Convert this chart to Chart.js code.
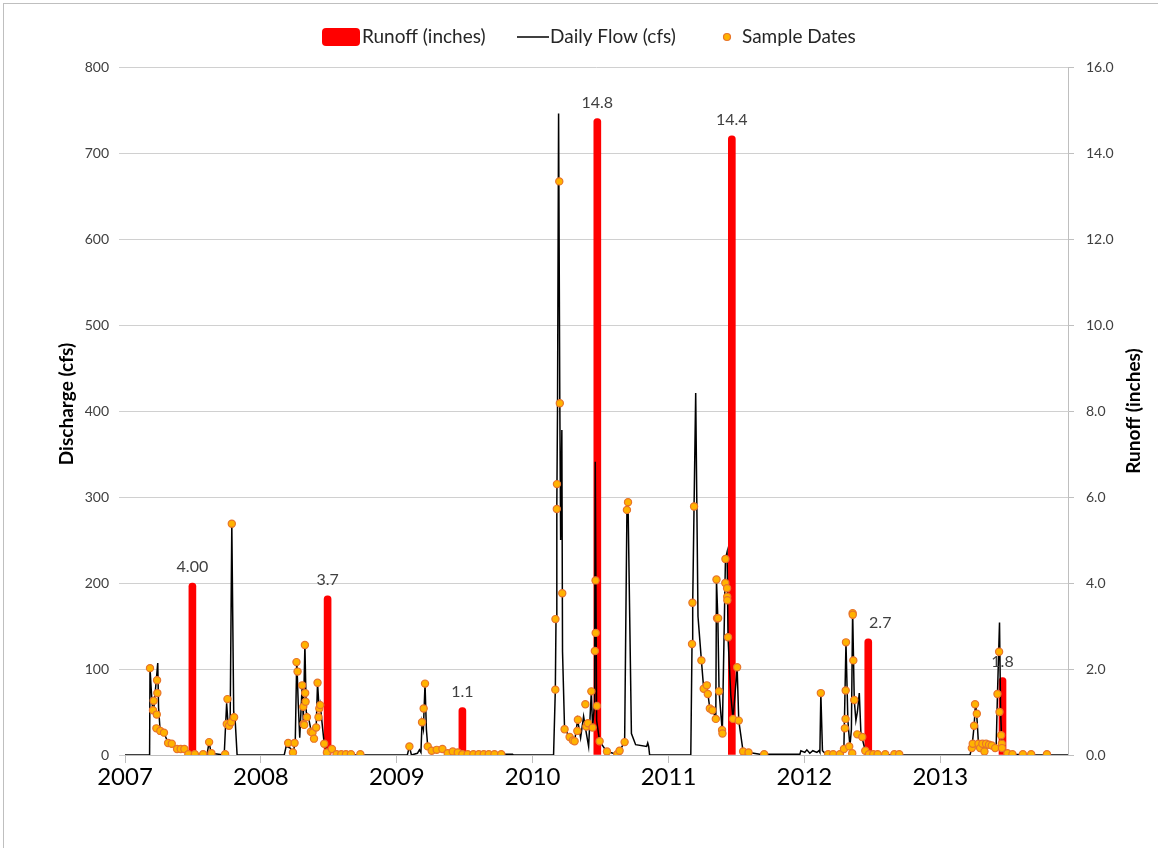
<!DOCTYPE html>
<html>
<head>
<meta charset="utf-8">
<script src="https://cdn.jsdelivr.net/npm/chart.js@4.4.1/dist/chart.umd.min.js"></script>
<style>
  html, body { margin: 0; padding: 0; background: #fff; }
  #wrap { width: 1158px; height: 848px; position: relative; }
</style>
</head>
<body>
<div id="wrap"><canvas id="c"></canvas></div>
<script>
// ---- Data (x in decimal years) ----
const runoffX = [2007.496, 2008.491, 2009.483, 2010.476, 2011.466, 2012.470, 2013.458];
const runoffY = [4.00, 3.7, 1.1, 14.8, 14.4, 2.7, 1.8];
const runoffLabels = ['4.00', '3.7', '1.1', '14.8', '14.4', '2.7', '1.8'];

const flowX = [
 2007.000,2007.181,2007.184,2007.199,2007.210,2007.221,2007.241,2007.247,2007.258,2007.287,
 2007.317,2007.346,2007.383,2007.435,2007.464,2007.604,2007.619,2007.634,2007.730,2007.748,
 2007.759,2007.774,2007.786,2007.800,2007.811,2007.825,
 2008.172,2008.186,2008.216,2008.238,2008.253,2008.264,2008.275,2008.286,2008.304,2008.312,
 2008.324,2008.334,2008.349,2008.371,2008.391,2008.407,2008.417,2008.430,2008.437,2008.466,
 2008.489,2008.525,2008.555,2008.614,
 2009.078,2009.093,2009.108,2009.152,2009.167,2009.178,2009.186,2009.196,2009.208,2009.218,
 2009.228,2009.255,2009.336,2009.373,2009.410,2009.461,2009.483,2009.852,2009.859,
 2010.154,2010.167,2010.172,2010.178,2010.183,2010.191,2010.200,2010.206,2010.215,2010.220,
 2010.235,2010.257,2010.287,2010.309,2010.331,2010.353,2010.375,2010.390,2010.412,2010.432,
 2010.441,2010.456,2010.461,2010.471,2010.493,2010.545,2010.618,2010.640,2010.677,2010.694,
 2010.702,2010.727,2010.758,2010.839,2010.847,2010.854,2010.861,
 2011.164,2011.173,2011.178,2011.188,2011.200,2011.217,2011.242,2011.259,2011.282,2011.304,
 2011.326,2011.348,2011.353,2011.363,2011.372,2011.396,2011.419,2011.431,2011.438,2011.458,
 2011.475,2011.505,2011.517,2011.549,2011.672,2011.967,2011.974,
 2012.003,2012.018,2012.040,2012.062,2012.092,2012.107,2012.114,2012.121,2012.133,2012.158,
 2012.284,2012.291,2012.306,2012.320,2012.335,2012.346,2012.355,2012.367,2012.379,2012.390,
 2012.404,2012.416,2012.448,2012.475,
 2013.219,2013.234,2013.249,2013.260,2013.271,2013.281,2013.308,2013.330,2013.359,2013.389,
 2013.411,2013.421,2013.436,2013.444,2013.453,2013.477,2013.529,2013.662,2013.940
];
const flowY = [
 0,0,101,60,50,70,107,55,30,26,
 14,13,7,6,1,1,15,2,0,60,
 35,40,269,50,40,0,
 0,10,8,3,15,112,60,20,81,40,
 128,50,45,27,19,32,84,50,58,13,
 3,5,1,0,
 0,10,0,2,6,3,38,30,83,30,
 10,5,7,2,4,2,1,1,0,
 0,76,158,290,400,746,409,250,378,120,
 30,25,17,16,41,20,45,30,10,74,
 32,60,341,40,16,4,1,5,15,285,
 294,25,12,10,14,10,0,
 0,129,177,289,421,161,110,77,81,54,
 52,42,204,159,74,27,228,236,137,70,
 42,102,40,4,1,1,5,
 3,6,2,5,3,5,3,72,5,1,
 2,10,131,40,10,30,168,64,40,50,
 72,25,5,0,
 0,10,34,62,40,13,13,5,12,9,
 8,71,154,50,13,3,1,0,0
];

const sampleX = [
 2007.184,2007.206,2007.211,2007.236,2007.238,2007.234,2007.231,2007.260,2007.287,2007.317,
 2007.344,2007.383,2007.410,2007.437,2007.466,2007.514,2007.575,2007.619,2007.636,2007.737,
 2007.754,2007.749,2007.766,2007.781,2007.786,2007.803,
 2008.201,2008.236,2008.248,2008.262,2008.270,2008.304,2008.312,2008.324,2008.326,2008.329,
 2008.314,2008.319,2008.339,2008.368,2008.380,2008.391,2008.407,2008.417,2008.424,2008.430,
 2008.437,2008.466,2008.486,2008.523,2008.557,2008.592,2008.626,2008.663,2008.732,
 2009.093,2009.186,2009.198,2009.208,2009.228,2009.257,2009.294,2009.336,2009.375,2009.412,
 2009.449,2009.483,2009.522,2009.564,2009.603,2009.640,2009.677,2009.719,2009.769,
 2010.167,2010.168,2010.178,2010.179,2010.196,2010.200,2010.218,2010.235,2010.272,2010.296,
 2010.309,2010.329,2010.333,2010.388,2010.395,2010.407,2010.432,2010.441,2010.473,2010.463,
 2010.464,2010.458,2010.493,2010.547,2010.623,2010.640,2010.677,2010.694,2010.702,
 2011.173,2011.176,2011.188,2011.242,2011.259,2011.282,2011.289,2011.304,2011.323,2011.348,
 2011.353,2011.357,2011.365,2011.372,2011.394,2011.397,2011.419,2011.418,2011.431,2011.432,
 2011.433,2011.438,2011.475,2011.505,2011.517,2011.549,2011.589,2011.704,
 2012.121,2012.175,2012.212,2012.261,2012.291,2012.298,2012.303,2012.304,2012.306,2012.330,
 2012.352,2012.355,2012.356,2012.360,2012.367,2012.389,2012.426,2012.448,2012.475,2012.507,
 2012.539,2012.595,2012.662,2012.698,
 2013.232,2013.239,2013.249,2013.256,2013.269,2013.281,2013.293,2013.310,2013.325,2013.337,
 2013.359,2013.379,2013.404,2013.421,2013.433,2013.436,2013.448,2013.453,2013.454,2013.494,
 2013.531,2013.608,2013.669,2013.785
];
const sampleY = [
 101,52,63,87,72,47,31,28,26,14,
 13,7,7,7,1,1,1,15,2,1,
 65,36,34,38,269,44,
 14,3,14,108,97,81,56,128,72,62,
 36,35,44,27,26,19,32,84,44,54,
 58,13,3,7,1,1,1,1,1,
 10,38,54,83,10,5,6,7,2,4,
 3,1,1,1,1,1,1,1,1,
 76,158,286,315,667,409,188,30,21,17,
 16,28,41,59,33,37,74,32,57,203,
 142,121,16,4,1,5,15,285,294,
 129,177,289,110,77,81,71,54,52,42,
 204,159,159,74,29,25,228,200,194,184,
 180,137,42,102,40,4,3,1,
 72,1,1,1,7,31,42,75,131,10,
 2,165,163,110,64,24,21,5,1,1,
 1,1,1,1,
 8,13,34,59,48,13,8,13,4,13,
 12,11,8,71,120,50,23,13,8,2,
 1,1,1,1
];

const yearTicks = [2007, 2008, 2009, 2010, 2011, 2012, 2013];

const FONT = 'Lato, "Open Sans", sans-serif';

// ---- Plugins ----
const decorPlugin = {
  id: 'decor',
  beforeDraw(chart) {
    const ctx = chart.ctx;
    ctx.save();
    ctx.fillStyle = '#fff';
    ctx.fillRect(0, 0, chart.width, chart.height);
    ctx.strokeStyle = '#BFBFBF';
    ctx.lineWidth = 1;
    ctx.strokeRect(3.5, 3.5, chart.width + 10, chart.height + 10);
    ctx.restore();
  },
  afterDraw(chart) {
    const ctx = chart.ctx;
    ctx.save();
    // Legend
    ctx.font = '19px ' + FONT;
    ctx.textBaseline = 'middle';
    const ly = 37;
    ctx.fillStyle = '#FF0000';
    ctx.beginPath();
    ctx.roundRect(322, 28, 38, 18, 4);
    ctx.fill();
    ctx.fillStyle = '#262626';
    ctx.fillText('Runoff (inches)', 362, ly);
    ctx.strokeStyle = '#000';
    ctx.lineWidth = 1.5;
    ctx.beginPath();
    ctx.moveTo(517, ly); ctx.lineTo(549, ly);
    ctx.stroke();
    ctx.fillText('Daily Flow (cfs)', 550, ly);
    ctx.beginPath();
    ctx.arc(727, ly, 3.5, 0, Math.PI * 2);
    ctx.fillStyle = '#FFB300';
    ctx.fill();
    ctx.strokeStyle = '#E8742A';
    ctx.lineWidth = 1.2;
    ctx.stroke();
    ctx.fillStyle = '#262626';
    ctx.fillText('Sample Dates', 742, ly);

    // Axis titles
    ctx.font = 'bold 19px ' + FONT;
    ctx.fillStyle = '#000';
    ctx.textAlign = 'center';
    ctx.save();
    ctx.translate(67, 404);
    ctx.rotate(-Math.PI / 2);
    ctx.fillText('Discharge (cfs)', 0, 0);
    ctx.restore();
    ctx.save();
    ctx.translate(1134, 411);
    ctx.rotate(-Math.PI / 2);
    ctx.fillText('Runoff (inches)', 0, 0);
    ctx.restore();

    // Bar labels
    const meta = chart.getDatasetMeta(0);
    const dx = chart.options.plugins.decor.labelDx || [];
    ctx.font = '16px ' + FONT;
    ctx.fillStyle = '#404040';
    ctx.textAlign = 'center';
    meta.data.forEach((el, i) => {
      ctx.fillText(runoffLabels[i], el.x + (dx[i] || 0), el.y - 16);
    });
    ctx.restore();
  }
};

const ctx = document.getElementById('c');
new Chart(ctx, {
  data: {
    datasets: [
      {
        type: 'bar',
        label: 'Runoff (inches)',
        data: runoffX.map((x, i) => ({ x, y: runoffY[i] })),
        yAxisID: 'y1',
        backgroundColor: '#FF0000',
        barThickness: 7,
        borderRadius: 4,
        borderSkipped: 'start',
        order: 3
      },
      {
        type: 'line',
        label: 'Daily Flow (cfs)',
        data: flowX.map((x, i) => ({ x, y: flowY[i] })),
        yAxisID: 'y',
        borderColor: '#000',
        borderWidth: 1.5,
        pointRadius: 0,
        tension: 0,
        order: 2
      },
      {
        type: 'scatter',
        label: 'Sample Dates',
        data: sampleX.map((x, i) => ({ x, y: sampleY[i] })),
        yAxisID: 'y',
        backgroundColor: '#FFB300',
        borderColor: '#E8742A',
        borderWidth: 1.2,
        pointRadius: 3.6,
        order: 1
      }
    ]
  },
  options: {
    responsive: true,
    maintainAspectRatio: false,
    animation: false,
    layout: { padding: { top: 67, left: 0, right: 0, bottom: 0 } },
    plugins: {
      legend: { display: false },
      tooltip: { enabled: false },
      decor: { labelDx: [0, 0, 0, 0, 0, 12, 0] }
    },
    scales: {
      x: {
        type: 'linear',
        offset: false,
        min: 2007,
        max: 2013.94,
        afterFit(s) { s.height = 93; },
        afterBuildTicks(s) { s.ticks = yearTicks.map(v => ({ value: v })); },
        ticks: {
          includeBounds: false,
          stepSize: 1,
          font: { family: FONT, size: 24 },
          color: '#000',
          padding: 0,
          maxRotation: 0,
          callback: v => String(v)
        },
        grid: { offset: false, drawOnChartArea: false, drawTicks: true, tickLength: 8, color: '#BFBFBF' },
        border: { display: true, color: '#BFBFBF' }
      },
      y: {
        position: 'left',
        min: 0,
        max: 800,
        afterFit(s) { s.width = 125; },
        ticks: {
          stepSize: 100,
          font: { family: FONT, size: 14 },
          color: '#404040',
          padding: 10
        },
        grid: { color: '#D0D0D0', tickLength: 6, drawTicks: true },
        border: { display: false }
      },
      y1: {
        position: 'right',
        min: 0,
        max: 16,
        afterFit(s) { s.width = 90; },
        ticks: {
          stepSize: 2,
          font: { family: FONT, size: 14 },
          color: '#404040',
          padding: 12,
          callback: v => Number(v).toFixed(1)
        },
        grid: { drawOnChartArea: false, tickLength: 6, color: '#BFBFBF' },
        border: { display: true, color: '#BFBFBF' }
      }
    }
  },
  plugins: [decorPlugin]
});
</script>
</body>
</html>
